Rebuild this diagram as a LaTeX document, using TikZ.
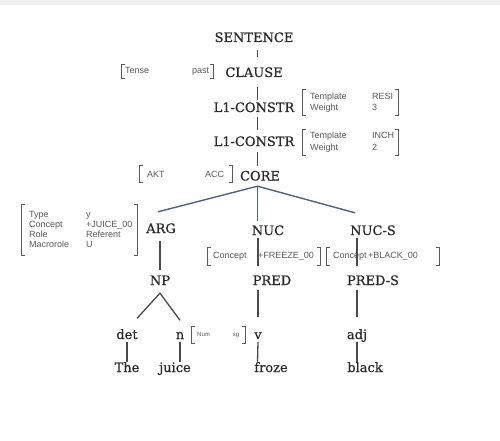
\documentclass[tikz,border=0pt]{standalone}
\usepackage{fontspec}
\setmainfont{DejaVu Serif}
\newfontfamily\lblfont{DejaVu Serif}[FakeBold=0.5]
\newfontfamily\avmfont{Liberation Sans}
\usetikzlibrary{calc}
\definecolor{ink}{HTML}{2A2A2A}
\definecolor{avmink}{HTML}{5A5A5A}
\definecolor{branch}{HTML}{4A6582}
\definecolor{stem}{HTML}{4A4A4A}
\definecolor{band}{HTML}{EFEFEF}
\begin{document}
\begin{tikzpicture}[x=1pt,y=-1pt,
  lbl/.style={font=\lblfont\fontsize{13}{13}\selectfont, text=ink, inner sep=0pt,
              text height=9.5pt, text depth=3pt, anchor=base},
  avm/.style={font=\avmfont\fontsize{9}{11}\selectfont, text=avmink,
              inner ysep=0pt, anchor=west, align=left},
  stemline/.style={draw=stem, line width=1.3pt},
  branchline/.style={draw=branch, line width=1.4pt},
  avmbracket/.style={draw=avmink, line width=1pt}]

% canvas
\useasboundingbox (0,0) rectangle (500,441);
\fill[white] (0,0) rectangle (500,441);
\fill[band] (0,0) rectangle (500,5);

% spine of the tree
\coordinate (trunk) at (257.5,0);

% constituent labels
\node[lbl] (sent)   at (254,42)  {SENTENCE};
\node[lbl] (clause) at (254,77)  {CLAUSE};
\node[lbl] (l1a)    at (254,112) {L1-CONSTR};
\node[lbl] (l1b)    at (254,146) {L1-CONSTR};
\node[lbl] (core)   at (260,180.5) {CORE};
\node[lbl] (arg)    at (161,233) {ARG};
\node[lbl] (nuc)    at (268,235) {NUC};
\node[lbl] (nucs)   at (373,235) {NUC-S};
\node[lbl] (np)     at (160,285) {NP};
\node[lbl] (pred)   at (272,285) {PRED};
\node[lbl] (preds)  at (373,285) {PRED-S};
\node[lbl] (det)    at (127,339) {det};
\node[lbl] (n)      at (180,339) {n};
\node[lbl] (v)      at (258,339) {v};
\node[lbl] (adj)    at (357,339) {adj};
\node[lbl] (the)    at (127,372) {The};
\node[lbl] (juice)  at (175,372) {juice};
\node[lbl] (froze)  at (271,372) {froze};
\node[lbl] (black)  at (365,372) {black};

% attribute-value matrices
\node[avm, text width=84pt, inner xsep=4pt, minimum height=13pt] (tense) at (121,71.5)
  {Tense\hfill past};
\node[avm, text width=80pt, inner xsep=8pt, minimum height=25pt] (tmpla) at (302,102.5)
  {\begin{tabular}{@{}p{62pt}@{}l@{}}Template & RESI\\ Weight & 3\end{tabular}};
\node[avm, font=\avmfont\fontsize{9}{12}\selectfont, text width=80pt, inner xsep=8pt,
      minimum height=25pt] (tmplb) at (302,142.5)
  {\begin{tabular}{@{}p{62pt}@{}l@{}}Template & INCH\\ Weight & 2\end{tabular}};
\node[avm, text width=77pt, inner xsep=8pt, minimum height=16pt] (akt) at (139,174)
  {AKT\hfill ACC};
\node[avm, font=\avmfont\fontsize{9}{10}\selectfont, text width=100pt, inner xsep=8pt,
      minimum height=50pt] (jc) at (21,230)
  {\begin{tabular}{@{}p{57pt}@{}l@{}}Type & y\\ Concept & +JUICE\_00\\
   Role & Referent\\ Macrorole & U\end{tabular}};
\node[avm, text width=101pt, inner xsep=6pt, minimum height=17pt] (fz) at (207,256.5)
  {\makebox[45pt][l]{Concept}+FREEZE\_00};
\node[avm, text width=99pt, inner xsep=7pt, minimum height=17pt] (bk) at (326,256.5)
  {\makebox[35pt][l]{Concept}+BLACK\_00};
\node[avm, font=\avmfont\fontsize{6}{7}\selectfont, text width=42pt, inner xsep=6pt,
      minimum height=16pt] (num) at (191,335)
  {Num\hfill sg};

% square brackets round each matrix
\foreach \b in {tense,tmpla,tmplb,akt,jc,fz,bk,num}{
  \draw[avmbracket] ([xshift=3.5pt]\b.north west) -- (\b.north west)
        -- (\b.south west) -- ([xshift=3.5pt]\b.south west);
  \draw[avmbracket] ([xshift=-3.5pt]\b.north east) -- (\b.north east)
        -- (\b.south east) -- ([xshift=-3.5pt]\b.south east);
}

% spine
\draw[stemline] ($(sent.south -| trunk)+(0,5)$)   -- ($(clause.north -| trunk)+(0,-10)$);
\draw[stemline] ($(clause.south -| trunk)+(0,7)$) -- ($(l1a.north -| trunk)+(0,-2.5)$);
\draw[stemline] ($(l1a.south -| trunk)+(0,2)$)    -- ($(l1b.north -| trunk)+(0,-6.5)$);
\draw[stemline] ($(l1b.south -| trunk)+(0,3)$)    -- ($(core.north -| trunk)+(0,-5)$);

% CORE branches
\draw[branchline] ($(arg.north)+(-3,-11.5)$) -- ($(core.south -| trunk)+(0,2.5)$)
                  -- ($(nucs.north)+(-18,-12.5)$);
\draw[branchline] ($(core.south -| trunk)+(0,2.5)$) -- ($(nuc.north -| trunk)+(0,-4)$);

% lower tree
\draw[stemline] ($(arg.south)+(-1,5)$)    -- ($(np.north)+(0,-5)$);
\draw[stemline] ($(nuc.south)+(-10,0)$)   -- ($(pred.north)+(-14,-9)$);
\draw[stemline] ($(nucs.south)+(-16,0)$)  -- ($(preds.north)+(-16,-9)$);
\draw[stemline] ($(det.north)+(10,-11)$) -- ($(np.south)+(0,5)$) -- ($(n.north)+(0,-9)$);
\draw[stemline] ($(pred.south)+(-14,2)$)  -- ($(v.north)+(0,-12)$);
\draw[stemline] ($(preds.south)+(-16,2)$) -- ($(adj.north)+(0,-12)$);

% words
\draw[stemline] (det.south) -- (the.north);
\draw[stemline] (n.south) -- ($(juice.north)+(5,0)$);
\draw[stemline] (v.south) -- ($(froze.north)+(-13.5,0)$);
\draw[stemline] (adj.south) -- ($(black.north)+(-8,0)$);
\end{tikzpicture}
\end{document}
